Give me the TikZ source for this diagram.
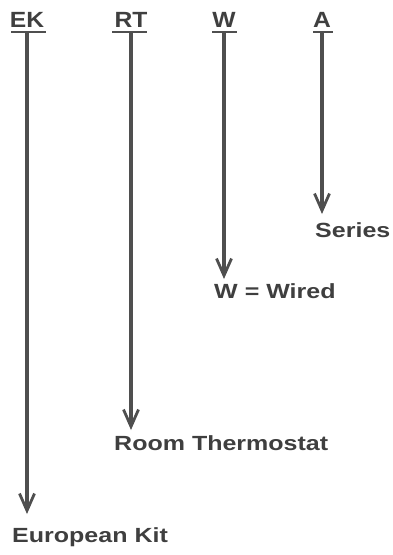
\documentclass[tikz,border=0pt]{standalone}
\usepackage{fontspec}
\setmainfont{Liberation Sans}
\usetikzlibrary{arrows.meta}
\definecolor{ink}{HTML}{3F3F3F}
\definecolor{wire}{HTML}{4F4F4F}
\begin{document}
\begin{tikzpicture}[x=1pt,y=-1pt,
  head/.style={font=\fontsize{22}{24}\selectfont\bfseries, text=ink, inner sep=0pt, anchor=base, xscale=1.12},
  lbl/.style={font=\fontsize{20.5}{23}\selectfont\bfseries, text=ink, inner sep=0pt, anchor=base west, xscale=1.22},
  uline/.style={draw=wire, line width=2.8pt},
  arr/.style={draw=wire, line width=3.3pt, -{Straight Barb[length=17pt,width=15pt,line width=2.8pt]}}
]
\useasboundingbox (0,0) rectangle (393,555);
% headers
\node[head] (ek) at (27,27) {EK};
\node[head] (rt) at (131,27) {RT};
\node[head] (w)  at (224,27) {W};
\node[head] (a)  at (322,27) {A};
% underlines
\draw[uline] (11,32) -- (46,32);
\draw[uline] (112,32) -- (147,32);
\draw[uline] (212,32) -- (237,32);
\draw[uline] (313,32) -- (333,32);
\coordinate (eks) at (27,32);
\coordinate (rts) at (131,32);
\coordinate (ws) at (224,32);
\coordinate (as) at (322,32);
% labels
\node[lbl] (series) at (315,237) {Series};
\node[lbl] (wired)  at (214,298) {W = Wired};
\node[lbl] (room)   at (114,450) {Room Thermostat};
\node[lbl] (euro)   at (12,542) {European Kit};
% tips
\coordinate (ekt) at (27,514);
\coordinate (rtt) at (131,430);
\coordinate (wt)  at (224,279);
\coordinate (at)  at (322,214);
% arrows
\draw[arr] (eks) -- (ekt);
\draw[arr] (rts) -- (rtt);
\draw[arr] (ws) -- (wt);
\draw[arr] (as) -- (at);
\end{tikzpicture}
\end{document}
